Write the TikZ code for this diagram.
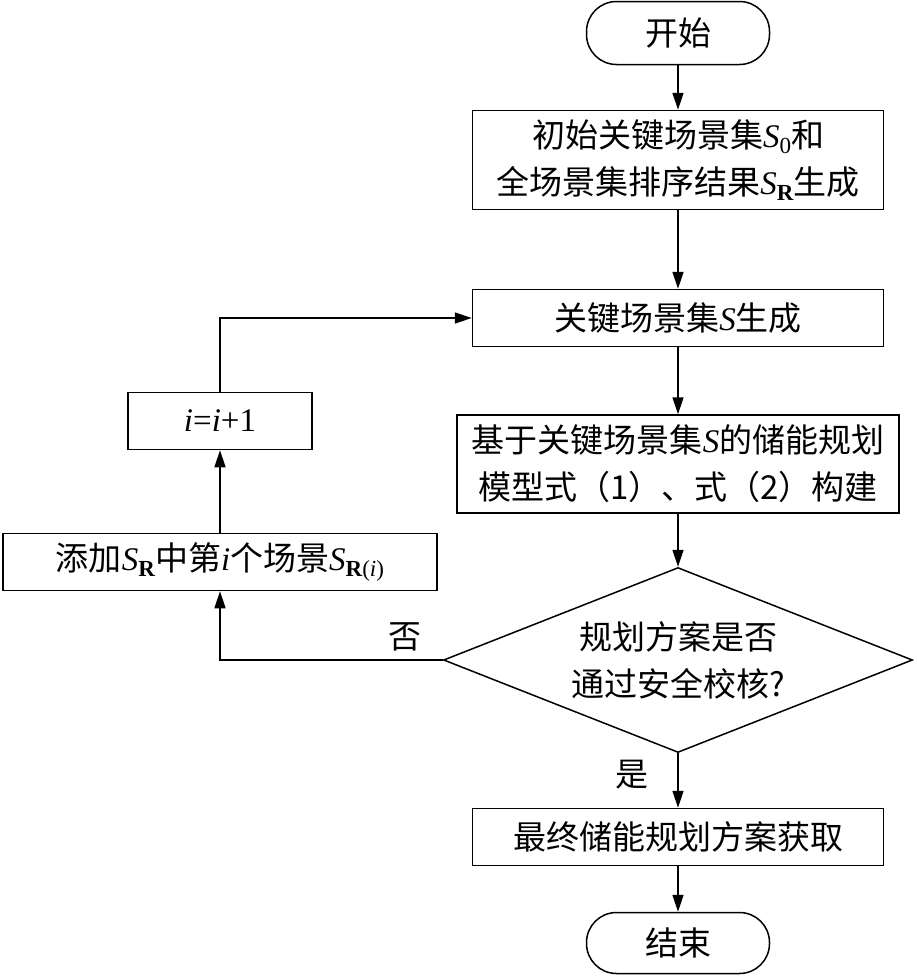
\documentclass[tikz,border=0pt]{standalone}
\usepackage{fontspec}
\setmainfont{Liberation Serif}
\newfontfamily\cjk{Noto Sans CJK SC}
\usetikzlibrary{positioning, arrows.meta, shapes.geometric}

\newcommand{\sv}{{\rmfamily\itshape S}}
\newcommand{\ssub}[1]{\sv\raisebox{-0.35ex}{\rmfamily\fontsize{23}{23}\selectfont #1}}

\begin{document}
\begin{tikzpicture}[
        x=1pt, y=-1pt,
        proc/.style={draw, line width=1.5pt, minimum width=411pt, minimum height=57pt, inner sep=0pt, align=center, font=\cjk\fontsize{33}{47}\selectfont},
        term/.style={proc, rounded corners=30pt, minimum width=183pt, minimum height=63pt},
        decide/.style={proc, diamond, aspect=2.5, minimum width=469pt, minimum height=185pt},
        flow/.style={-{Triangle[length=17pt, width=11pt]}, line width=1.5pt},
        lbl/.style={font=\cjk\fontsize{33}{33}\selectfont}
    ]
    \useasboundingbox (0,0) rectangle (917,980);

    % Main column
    \node[term] (start) at (678,33) {开始};
    \node[proc, minimum height=99pt] (init) at (678,160) {初始关键场景集\ssub{0}和\\全场景集排序结果\ssub{\bfseries R}生成};
    \node[proc] (gen) at (678,318) {关键场景集\sv 生成};
    \node[proc, minimum width=442pt, minimum height=98pt] (model) at (678,464) {基于关键场景集\sv 的储能规划\\模型式（1）、式（2）构建};
    \node[decide] (check) at (678,660) {规划方案是否\\通过安全校核?};
    \node[proc] (final) at (678,837) {最终储能规划方案获取};
    \node[term, minimum height=61pt] (stop) at (678,943) {结束};

    % Left loop
    \node[proc, minimum width=434pt] (add) at (220,562) {添加\ssub{\bfseries R}中第{\rmfamily\itshape i}个场景\ssub{\bfseries R\mdseries(\itshape i\/\upshape)}};
    \node[proc, minimum width=184pt, font=\rmfamily\fontsize{33}{33}\selectfont] (inc) at (220,421) {\textit{i}=\textit{i}+1};

    % Edges
    \draw[flow] (start) -- (init);
    \draw[flow] (init) -- (gen);
    \draw[flow] (gen) -- (model);
    \draw[flow] (model) -- (check);
    \draw[flow] (check) -- (final);
    \draw[flow] (final) -- (stop);
    \draw[flow] (check.west) -| (add.south);
    \draw[flow] (add) -- (inc);
    \draw[flow] (inc.north) |- (gen.west);

    % Labels
    \node[lbl] (no) at (405,637) {否};
    \node[lbl] (yes) at (632,775) {是};
\end{tikzpicture}
\end{document}
